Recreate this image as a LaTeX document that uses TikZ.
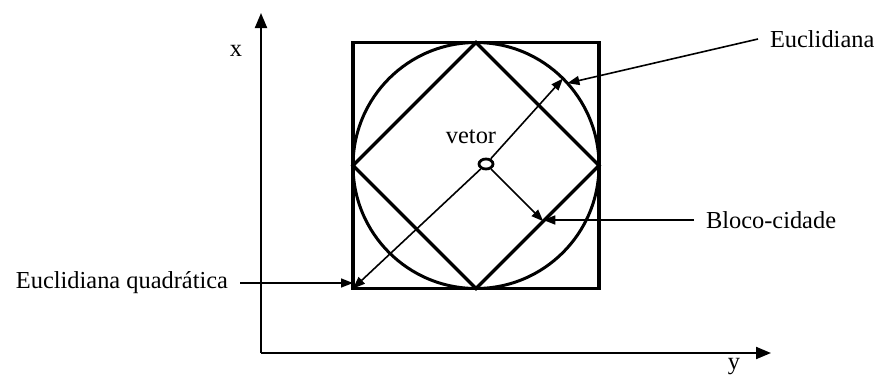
\documentclass[tikz,border=0pt]{standalone}
\usepackage{fontspec}
\setmainfont{Liberation Serif}
\usetikzlibrary{arrows.meta,shapes.geometric,calc}
\tikzset{
  rotulo/.style={font=\fontsize{12.2}{14}\selectfont, inner sep=1pt},
  chamada/.style={rotulo, outer sep=5pt},
  seta/.style={line width=0.8pt, -{Triangle[length=6pt,width=4.5pt]}},
  eixo/.style={line width=1pt, -{Triangle[length=7.5pt,width=6pt]}},
  figura/.style={draw, line width=1.7pt, inner sep=0pt, outer sep=0pt, minimum size=123pt},
}
\begin{document}
\begin{tikzpicture}[x=0.5pt,y=-0.5pt]
\useasboundingbox (0,0) rectangle (878,381);
% eixos
\coordinate (o) at (261,353);
\coordinate (xfim) at (261,13);
\coordinate (yfim) at (771,353);
\draw[eixo] (o) -- (xfim);
\draw[eixo] (o) -- (yfim);
\node[rotulo] (xlab) at (236,51) {x};
\node[rotulo] (ylab) at (734,367) {y};

% quadrado, circulo e losango
\node[figura, rectangle] (quad) at (476,165.5) {};
\node[figura, circle, line width=1.5pt] (circ) at (476,165.5) {};
\node[figura, diamond, aspect=1] (los) at (476,165.5) {};

% vetor e distancias
\node[draw, ellipse, line width=1.4pt, minimum width=7pt, minimum height=5pt, inner sep=0pt] (vetor) at (486,164) {};
\node[rotulo] (vlab) at (471,137) {vetor};
\coordinate (bc) at ($(los.east)!(vetor)!(los.south)$);
\draw[seta] (vetor) -- (circ.45);
\draw[seta] (vetor) -- (quad.south west);
\draw[seta] (vetor) -- (bc);

% rotulos externos
\node[chamada, anchor=west] (euc) at (758,39) {Euclidiana};
\node[chamada, anchor=west] (bloco) at (694,220) {Bloco-cidade};
\node[chamada, anchor=east] (eucq) at (240,283) {Euclidiana quadrática};
\draw[seta] (euc.west) -- (circ.42);
\draw[seta] (bloco.west) -- (bloco.west -| bc);
\draw[seta] (eucq.east) -- (eucq.east -| quad.west);
\end{tikzpicture}
\end{document}
